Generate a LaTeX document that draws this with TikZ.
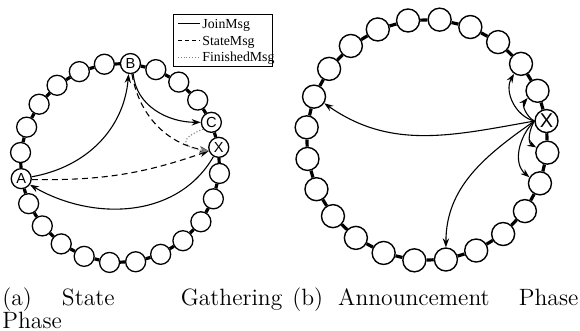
\documentclass[tikz,border=0pt]{standalone}
\usepackage{fontspec}
\usetikzlibrary{arrows.meta}
\newfontfamily\nodefont{Liberation Sans}
\newfontfamily\legfont{Liberation Serif}
\begin{document}
\begin{tikzpicture}[x=0.5pt,y=0.5pt,
  lnode/.style={circle,draw,line width=0.65pt,minimum size=10pt,inner sep=0pt,font=\nodefont\fontsize{7.3}{7}\selectfont},
  rnode/.style={circle,draw,line width=0.7pt,minimum size=11.5pt,inner sep=0pt,font=\nodefont\fontsize{10}{10}\selectfont},
  ringlink/.style={line width=1.6pt},
  msg/.style={line width=0.55pt,-{Stealth[length=4.5pt,width=3.2pt]}},
  joinmsg/.style={msg},
  statemsg/.style={msg,dash pattern=on 3pt off 2pt},
  finmsg/.style={msg,densely dotted,gray},
  legtext/.style={anchor=mid west,inner sep=0pt,font=\legfont\fontsize{6.9}{7}\selectfont},
  captext/.style={anchor=base west,inner sep=0pt,font=\fontsize{11.8}{11.5}\selectfont},
]
\useasboundingbox (0,0) rectangle (580,331);
% left ring
\foreach \k/\t in {0/X,1/C,2/,3/,4/,5/B,6/,7/,8/,9/,10/,11/,12/A,13/,14/,15/,16/,17/,18/,19/,20/,21/,22/,23/}{
  \pgfmathsetmacro\ang{9+15*\k}
  \node[lnode] (L\k) at ([shift={(\ang:100)}]120,168) {\t};
}
\foreach \k [evaluate=\k as \j using {int(mod(\k+1,24))}] in {0,...,23}
  \draw[ringlink] (L\k) -- (L\j);
% right ring
\foreach \k/\t in {0/X,1/,2/,3/,4/,5/,6/,7/,8/,9/,10/,11/,12/,13/,14/,15/,16/,17/,18/,19/,20/,21/,22/,23/}{
  \pgfmathsetmacro\ang{9+15*\k}
  \node[rnode] (R\k) at ([shift={(\ang:121)}]427,191) {\t};
}
\foreach \k [evaluate=\k as \j using {int(mod(\k+1,24))}] in {0,...,23}
  \draw[ringlink] (R\k) -- (R\j);
% left messages
\draw[joinmsg] (L12.10) to[out=10,in=-95] (L5.-100);
\draw[joinmsg] (L5.-75) to[out=-85,in=180] (L1.west);
\draw[statemsg] (L5.-82) to[out=-80,in=170] (L0.200);
\draw[statemsg] (L12.-5) to[bend right=10] (L0.200);
\draw[joinmsg] (L0.240) to[out=-120,in=-30] (L12.-35);
\draw[finmsg] (L1.220) .. controls +(-26,-10) and +(-26,3) .. (L0.200);
% right messages
\draw[joinmsg] (R0.west) to[out=190,in=-35] (R10.-33);
\draw[joinmsg] (R0.west) to[out=215,in=90] (R18.north);
\draw[joinmsg] (R0.west) to[out=165,in=-120] (R2.235);
\draw[joinmsg] (R0.west) to[out=150,in=-130] (R1.216);
\draw[joinmsg] (R0.west) to[out=-120,in=150] (R23.155);
\draw[joinmsg] (R0.west) to[out=-135,in=140] (R22.150);
% legend
\node[draw,line width=0.5pt,minimum width=49.5pt,minimum height=26pt,inner sep=0pt] (leg) at (222.5,290) {};
\coordinate (j1) at (178,307); \coordinate (j2) at (200,307);
\coordinate (s1) at (178,290); \coordinate (s2) at (200,290);
\coordinate (f1) at (178,274); \coordinate (f2) at (200,274);
\draw[line width=0.5pt] (j1) -- (j2);
\draw[line width=0.5pt,dash pattern=on 2pt off 1.5pt] (s1) -- (s2);
\draw[line width=0.4pt,densely dotted,gray] (f1) -- (f2);
\node[legtext] (lj) at (202,307) {JoinMsg};
\node[legtext] (ls) at (202,290) {StateMsg};
\node[legtext] (lf) at (202,274) {FinishedMsg};
% captions
\node[captext] (capa1) at (2,25) {\makebox[140pt][l]{(a)\hspace{15pt}State\hfill Gathering}};
\node[captext] (capa2) at (2,2) {Phase};
\node[captext] (capb) at (292,25) {\makebox[143pt][l]{(b)\hspace{7.5pt}Announcement\hfill Phase}};
\end{tikzpicture}
\end{document}
